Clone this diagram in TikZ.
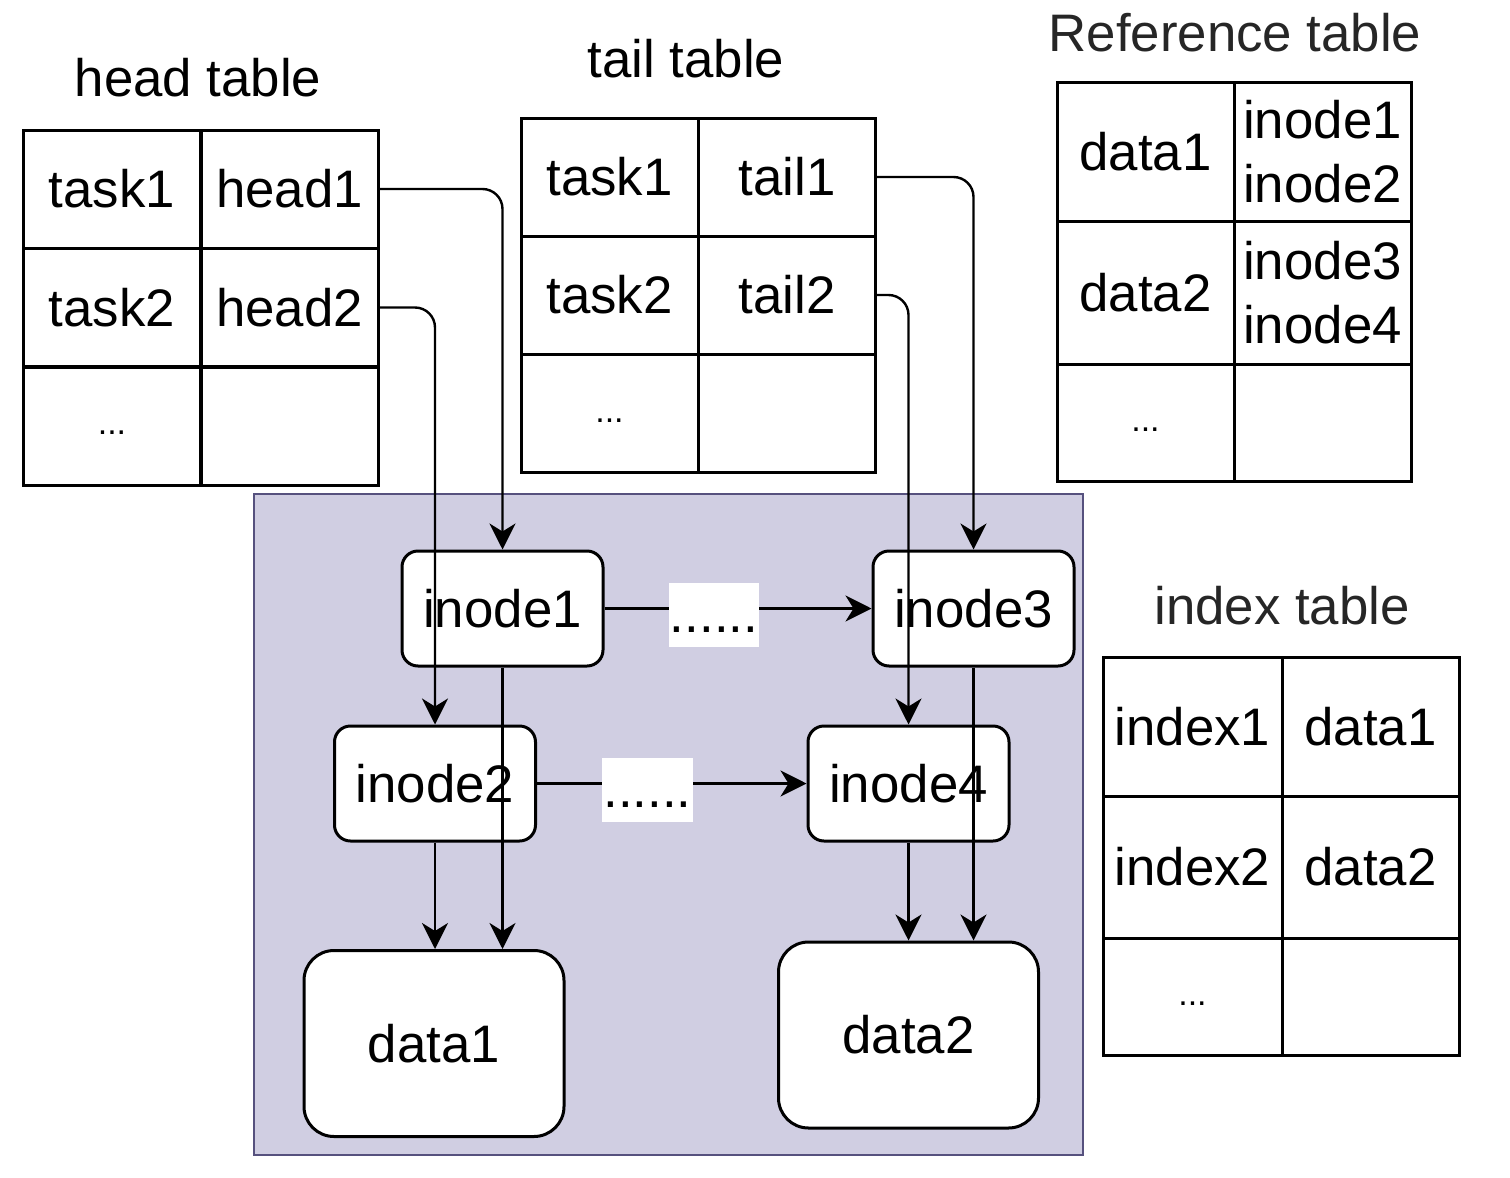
\documentclass[tikz,border=0pt]{standalone}
\usepackage{fontspec}
\setmainfont{Liberation Sans}
\usetikzlibrary{arrows.meta}

\definecolor{boxfill}{HTML}{D0CEE2}
\definecolor{boxline}{HTML}{56517E}
\definecolor{titlegray}{HTML}{262626}

\begin{document}
\begin{tikzpicture}[x=0.5pt, y=-0.5pt,
        font=\fontsize{26.4}{32}\selectfont,
        cell/.style={draw, line width=1.5pt, inner sep=1pt, minimum width=88.5pt, minimum height=59pt, align=center},
        dotcell/.style={cell, font=\fontsize{17}{22}\selectfont},
        inode/.style={draw, fill=white, line width=1.5pt, rounded corners=8pt, minimum width=100.5pt, minimum height=57.5pt},
        datanode/.style={inode, rounded corners=15pt, minimum width=130pt, minimum height=93pt},
        gap/.style={fill=white, inner xsep=0.5pt, inner ysep=0pt, text height=25pt, text depth=7pt, yshift=-3pt},
        arr/.style={-{Stealth[length=13pt, width=13pt, inset=4pt]}, line width=1.2pt},
        tabarr/.style={arr, rounded corners=10pt}]
    \useasboundingbox (0,0) rectangle (1510,1178);

    \draw[fill=boxfill, draw=boxline, line width=1.2pt] (254,494) rectangle (1083,1155);

    \node (headtitle) at (198,78)   {head table};
    \node (tailtitle) at (686,59)   {tail table};
    \node[text=titlegray] (reftitle)  at (1235,33)  {Reference table};
    \node[text=titlegray] (idxtitle)  at (1282,606) {index table};

    \node[cell] (h11) at (112,189)    {task1};
    \node[cell] (h12) at (289.5,189)  {head1};
    \node[cell] (h21) at (112,307.5)  {task2};
    \node[cell] (h22) at (289.5,307.5){head2};
    \node[dotcell] (h31) at (112,426)   {\strut...};
    \node[cell] (h32) at (289.5,426)  {};

    \node[cell] (t11) at (609.5,177)  {task1};
    \node[cell] (t12) at (787,177)    {tail1};
    \node[cell] (t21) at (609.5,295)  {task2};
    \node[cell] (t22) at (787,295)    {tail2};
    \node[dotcell] (t31) at (609.5,413.5) {\strut...};
    \node[cell] (t32) at (787,413.5)  {};

    \node[cell, minimum height=69.5pt] (r11) at (1145.5,151.5) {data1};
    \node[cell, minimum height=69.5pt] (r12) at (1322.5,151.5) {inode1\\inode2};
    \node[cell, minimum height=71.5pt] (r21) at (1145.5,292.5) {data2};
    \node[cell, minimum height=71.5pt] (r22) at (1322.5,292.5) {inode3\\inode4};
    \node[dotcell, minimum height=58.5pt] (r31) at (1145.5,422.5) {\strut...};
    \node[cell, minimum height=58.5pt] (r32) at (1322.5,422.5) {};

    \node[cell, minimum width=89.5pt, minimum height=69.5pt] (x11) at (1192.5,726.5) {index1};
    \node[cell, minimum height=69.5pt] (x12) at (1370.5,726.5) {data1};
    \node[cell, minimum width=89.5pt, minimum height=71pt] (x21) at (1192.5,867) {index2};
    \node[cell, minimum height=71pt] (x22) at (1370.5,867) {data2};
    \node[dotcell, minimum width=89.5pt, minimum height=58.5pt] (x31) at (1192.5,996.5) {\strut...};
    \node[cell, minimum height=58.5pt] (x32) at (1370.5,996.5) {};

    \node[inode] (inode1) at (502.5,608.5) {inode1};
    \node[inode] (inode3) at (973.5,608.5) {inode3};
    \node[inode] (inode2) at (435,783.5)   {inode2};
    \node[inode] (inode4) at (908.5,783.5) {inode4};
    \node[datanode] (data1) at (434,1043.5) {data1};
    \node[datanode] (data2) at (908.5,1035) {data2};

    \draw[arr] (inode1) -- node[gap, pos=0.41] {......} (inode3);
    \draw[arr] (inode2) -- node[gap, pos=0.41] {......} (inode4);

    \draw[tabarr] (h12.east) -| (inode1.north);
    \draw[tabarr] (h22.east) -| (inode2.north);
    \draw[tabarr] (t12.east) -| (inode3.north);
    \draw[tabarr] (t22.east) -| (inode4.north);

    \draw[arr] (inode2.south) -- (data1.north -| inode2.south);
    \draw[arr] (inode1.south) -- (data1.north -| inode1.south);
    \draw[arr] (inode4.south) -- (data2.north -| inode4.south);
    \draw[arr] (inode3.south) -- (data2.north -| inode3.south);
\end{tikzpicture}
\end{document}
